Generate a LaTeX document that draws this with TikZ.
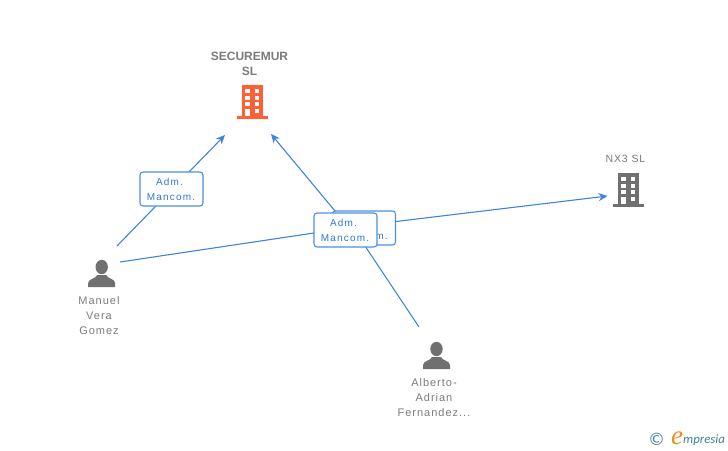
\documentclass[tikz,border=0pt]{standalone}
\usepackage{fontspec}
\setmainfont{Liberation Sans}
\newfontfamily\logoserif{Liberation Serif}
\newfontfamily\logosans{Carlito}
\newfontfamily\logosym{DejaVu Sans}
\usetikzlibrary{arrows.meta,backgrounds}
\definecolor{linkblue}{HTML}{3F83E0}
\definecolor{boxblue}{HTML}{4E8FE3}
\definecolor{txtblue}{HTML}{2F78D8}
\definecolor{txtgrey}{HTML}{7B7B7B}
\definecolor{icongrey}{HTML}{707070}
\definecolor{orangeb}{HTML}{FF5F33}
\definecolor{logoteal}{HTML}{3F8299}
\definecolor{logoorange}{HTML}{F08A1D}
\newcommand{\buildingicon}[3]{%
  \begin{scope}[shift={(#1,#2)}]
    \fill[#3] (241.5,85) rectangle (263,117);
    \fill[#3] (236.7,116.2) rectangle (267.7,118.8);
    \fill[white] (245,89.3) rectangle (249.5,93.3);
    \fill[white] (254.5,89.3) rectangle (259.3,93.3);
    \fill[white] (245,95.8) rectangle (249.5,100);
    \fill[white] (254.5,95.8) rectangle (259.3,100);
    \fill[white] (245,102.3) rectangle (249.5,106);
    \fill[white] (254.5,102.3) rectangle (259.3,106);
    \fill[white] (245,109) rectangle (249.5,116.2);
    \fill[white] (254.5,109) rectangle (259.3,113.3);
  \end{scope}}
\newcommand{\personicon}[2]{%
  \begin{scope}[shift={(#1,#2)}]
    \fill[icongrey] (0,-20) ellipse (6.2 and 7.2);
    \fill[icongrey] (-13.5,0) -- (-13.5,-4) .. controls (-13,-8.5) and (-6,-8) .. (-4.5,-12)
      -- (4.5,-12) .. controls (6,-8) and (13,-8.5) .. (13.5,-4) -- (13.5,0) -- cycle;
  \end{scope}}
\newcommand{\rolelines}{\hspace*{-4pt}Adm.\\\hspace*{-1pt}Mancom.}
\tikzset{
  link/.style={draw=linkblue,line width=1.1pt},
  linkarrow/.style={link,-{Stealth[length=9pt,width=8pt]}},
  rolebox/.style={draw=boxblue,line width=1.1pt,fill=white,rounded corners=3pt,
    minimum width=63pt,minimum height=34pt,inner sep=0pt,align=center,text=txtblue,
    font=\fontsize{10}{15}\selectfont\addfontfeatures{LetterSpace=12}},
  namelabel/.style={inner sep=0pt,align=center,text=txtgrey,
    font=\fontsize{11}{15}\selectfont\addfontfeatures{LetterSpace=9}},
  titlelabel/.style={inner sep=0pt,align=center,text=txtgrey,
    font=\fontsize{12}{15}\selectfont\bfseries},
}
\begin{document}
\begin{tikzpicture}[x=1pt,y=-1pt]
\path[use as bounding box] (0,0) rectangle (728,450);
% icons
\buildingicon{0}{0}{orangeb}
\buildingicon{376}{88}{icongrey}
\personicon{101.7}{287}
\personicon{436.5}{369}
% nodes
\node[titlelabel] (secure) at (249.5,63.5) {SECUREMUR\\SL};
\node[namelabel,font=\fontsize{10.5}{15}\selectfont\addfontfeatures{LetterSpace=8}] (nx3) at (625.5,159) {NX3 SL};
\node[namelabel] (manuel) at (99,316) {Manuel\\Vera\\Gomez};
\node[namelabel] (alberto) at (434,398) {Alberto-\\Adrian\\Fernandez...};
% connector ends
\coordinate (secureInL) at (225,135);
\coordinate (secureInR) at (271,134);
\coordinate (nx3In) at (607.5,196);
\coordinate (manuelOutA) at (117,246);
\coordinate (manuelOutB) at (120,262);
\coordinate (albertoOut) at (419,327);
% role boxes
\node[rolebox] (roleA) at (171.5,189) {\rolelines};
\node[rolebox] (roleB) at (364,228) {\rolelines};
\node[rolebox] (roleC) at (345.5,230) {\rolelines};
% connectors behind the boxes
\begin{pgfonlayer}{background}
\draw[linkarrow] (manuelOutA) -- (secureInL);
\draw[linkarrow] (manuelOutB) -- (314,233) -- (396,221.5) -- (nx3In);
\draw[linkarrow] (albertoOut) -- (365,246) -- (335,211) -- (secureInR);
\end{pgfonlayer}
% logo
\node[inner sep=0pt,text=logoteal,font=\logosym\fontsize{17}{17}\selectfont] (copy) at (656.5,439) {©};
\node[inner sep=0pt,text=logoorange,font=\logoserif\itshape\fontsize{27}{27}\selectfont] (elogo) at (677,438) {e};
\node[inner sep=0pt,anchor=west,text=logoteal,font=\logosans\itshape\fontsize{12.8}{14}\selectfont] (mpresia) at (683,440) {mpresia};
\end{tikzpicture}
\end{document}
